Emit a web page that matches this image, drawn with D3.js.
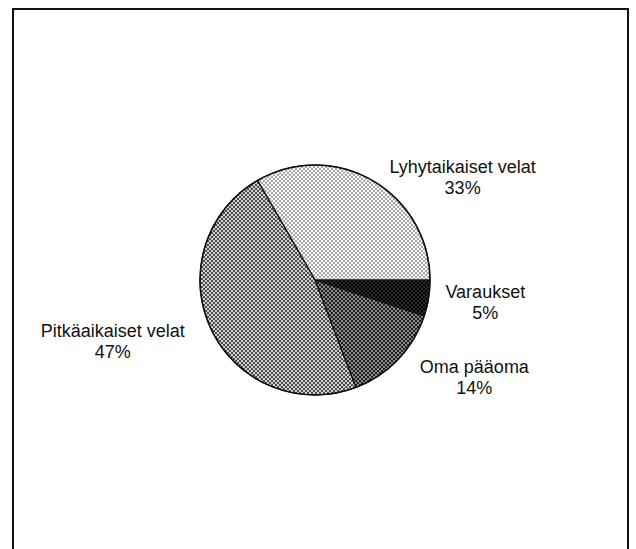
<!DOCTYPE html>
<html>
<head>
<meta charset="utf-8">
<script src="https://cdn.jsdelivr.net/npm/d3@7"></script>
<style>
  body { margin: 0; background: #fff; }
  svg text { font-family: "Liberation Sans", Arial, sans-serif; fill: #111; }
</style>
</head>
<body>
<div id="chart"></div>
<script>
var width = 636;
var height = 549;

// slices in drawing order, counter-clockwise from 3 o'clock
var categories = ["Lyhytaikaiset velat", "Pitkäaikaiset velat", "Oma pääoma", "Varaukset"];
var shares = [33, 47, 14, 5];
var shareLabels = ["33%", "47%", "14%", "5%"];

// halftone look: background tone + dot tone
var patternTones = [
  { bg: "#f6f6f6", dot: "#a9a9a9" },
  { bg: "#d2d2d2", dot: "#4a4a4a" },
  { bg: "#8c8c8c", dot: "#1e1e1e" },
  { bg: "#2a2a2a", dot: "#050505" }
];

// label nudges from the label-arc centroid
var labelNudge = [[70, 27], [-62, -10], [47, -14], [17, -7]];

function createSVG(width, height) {
  return d3.select("#chart")
    .append("svg")
    .attr("width", width)
    .attr("height", height);
}

function createPatterns(svg) {
  var defs = svg.append("defs");
  patternTones.forEach(function(t, i) {
    var p = defs.append("pattern")
      .attr("id", "pat" + i)
      .attr("width", 4)
      .attr("height", 4)
      .attr("patternUnits", "userSpaceOnUse");
    p.append("rect").attr("width", 4).attr("height", 4).attr("fill", t.bg);
    p.append("rect").attr("x", 0).attr("y", 0).attr("width", 2).attr("height", 2).attr("fill", t.dot);
    p.append("rect").attr("x", 2).attr("y", 2).attr("width", 2).attr("height", 2).attr("fill", t.dot);
  });
}

function main() {
  var svg = createSVG(width, height);
  createPatterns(svg);

  // frame (bottom edge runs off the page)
  svg.append("rect")
    .attr("x", 13).attr("y", 9)
    .attr("width", 615).attr("height", 560)
    .attr("fill", "none")
    .attr("stroke", "#111")
    .attr("stroke-width", 2);

  var cx = 315, cy = 280, radius = 115;
  var g = svg.append("g").attr("transform", "translate(" + cx + "," + cy + ")");

  var data = categories.map(function(c, i) {
    return { name: c, value: shares[i], label: shareLabels[i], idx: i };
  });

  var pie = d3.pie()
    .sort(null)
    .value(function(d) { return d.value; })
    .startAngle(Math.PI / 2)
    .endAngle(Math.PI / 2 - 2 * Math.PI);

  var arc = d3.arc().innerRadius(0).outerRadius(radius);
  var labelArc = d3.arc().innerRadius(radius * 1.35).outerRadius(radius * 1.35);

  var arcs = pie(data);

  g.selectAll("path.slice")
    .data(arcs)
    .enter()
    .append("path")
    .attr("class", "slice")
    .attr("d", arc)
    .style("fill", function(d) { return "url(#pat" + d.data.idx + ")"; })
    .style("stroke", "#111")
    .style("stroke-width", 1.2);

  g.append("circle")
    .attr("r", radius)
    .attr("fill", "none")
    .attr("stroke", "#111")
    .attr("stroke-width", 1.5);

  var labels = g.selectAll("g.label")
    .data(arcs)
    .enter()
    .append("g")
    .attr("class", "label")
    .attr("transform", function(d) {
      var c = labelArc.centroid(d);
      var n = labelNudge[d.data.idx];
      return "translate(" + (c[0] + n[0]) + "," + (c[1] + n[1]) + ")";
    });

  labels.append("text")
    .attr("text-anchor", "middle")
    .attr("y", 0)
    .style("font-size", "18px")
    .text(function(d) { return d.data.name; });

  labels.append("text")
    .attr("text-anchor", "middle")
    .attr("y", 21)
    .style("font-size", "18px")
    .text(function(d) { return d.data.label; });
}

window.onload = function() {
  main();
};
</script>
</body>
</html>
